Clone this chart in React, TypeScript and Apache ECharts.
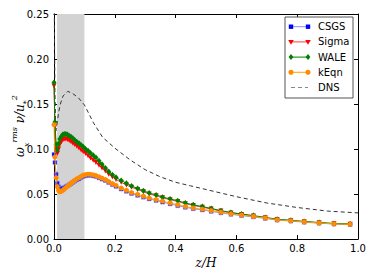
import React, { useEffect, useRef } from "react";
import * as echarts from "echarts";

const Z = [0, 0.003, 0.007, 0.011, 0.015, 0.019, 0.024, 0.029, 0.034, 0.039, 0.044, 0.05, 0.056, 0.062, 0.068, 0.075, 0.082, 0.089, 0.096, 0.104, 0.112, 0.12, 0.129, 0.138, 0.148, 0.158, 0.169, 0.18, 0.192, 0.204, 0.221, 0.238, 0.255, 0.275, 0.294, 0.313, 0.336, 0.357, 0.382, 0.407, 0.432, 0.458, 0.488, 0.517, 0.549, 0.582, 0.617, 0.656, 0.695, 0.734, 0.779, 0.823, 0.872, 0.921, 0.974];
const CSGS = [0.094, 0.085, 0.072, 0.062, 0.058, 0.0565, 0.056, 0.0565, 0.057, 0.058, 0.059, 0.0602, 0.0615, 0.063, 0.0643, 0.0657, 0.0668, 0.0683, 0.0695, 0.0703, 0.0708, 0.0707, 0.0702, 0.0695, 0.068, 0.0665, 0.065, 0.0628, 0.0605, 0.0585, 0.0555, 0.053, 0.0505, 0.0485, 0.0465, 0.0445, 0.0428, 0.041, 0.039, 0.037, 0.0352, 0.0337, 0.0322, 0.0307, 0.029, 0.0274, 0.026, 0.0245, 0.0229, 0.021, 0.0199, 0.0187, 0.0176, 0.0166, 0.0161];
const SIGMA = [0.17, 0.125, 0.1, 0.095, 0.1, 0.105, 0.108, 0.11, 0.111, 0.111, 0.1105, 0.1095, 0.108, 0.1065, 0.105, 0.103, 0.101, 0.099, 0.097, 0.095, 0.0925, 0.09, 0.0875, 0.085, 0.082, 0.079, 0.0755, 0.072, 0.069, 0.066, 0.063, 0.06, 0.0575, 0.055, 0.0525, 0.05, 0.048, 0.0457, 0.0437, 0.0417, 0.0393, 0.0373, 0.0353, 0.0333, 0.031, 0.029, 0.0273, 0.0255, 0.0236, 0.0216, 0.0204, 0.0192, 0.018, 0.017, 0.0164];
const WALE = [0.174, 0.13, 0.105, 0.099, 0.106, 0.111, 0.114, 0.116, 0.1168, 0.1168, 0.116, 0.1148, 0.1135, 0.112, 0.11, 0.108, 0.1065, 0.1045, 0.1026, 0.1, 0.098, 0.0955, 0.093, 0.0905, 0.087, 0.083, 0.079, 0.075, 0.0715, 0.0685, 0.065, 0.062, 0.059, 0.056, 0.0535, 0.051, 0.049, 0.0465, 0.0445, 0.0425, 0.04, 0.038, 0.036, 0.034, 0.0315, 0.0295, 0.0278, 0.026, 0.024, 0.022, 0.0208, 0.0195, 0.0183, 0.0173, 0.0167];
const KEQN = [0.127, 0.091, 0.068, 0.058, 0.054, 0.0525, 0.053, 0.054, 0.0555, 0.057, 0.0585, 0.06, 0.0618, 0.0635, 0.065, 0.0668, 0.068, 0.0695, 0.0708, 0.0716, 0.072, 0.0718, 0.0712, 0.0705, 0.069, 0.0675, 0.066, 0.0638, 0.0615, 0.0595, 0.0565, 0.054, 0.0515, 0.0495, 0.0475, 0.0455, 0.0438, 0.042, 0.04, 0.038, 0.036, 0.0345, 0.033, 0.0315, 0.0297, 0.028, 0.0265, 0.025, 0.0233, 0.0213, 0.0202, 0.019, 0.0178, 0.0168, 0.0163];

const DNS_Z = [0, 0.003, 0.006, 0.01, 0.015, 0.02, 0.03, 0.045, 0.06, 0.08, 0.1, 0.13, 0.16, 0.2, 0.25, 0.3, 0.35, 0.4, 0.45, 0.5, 0.6, 0.7, 0.8, 0.9, 1.0];
const DNS = [0.3, 0.165, 0.12, 0.128, 0.14, 0.149, 0.159, 0.164, 0.162, 0.157, 0.149, 0.129, 0.113, 0.101, 0.088, 0.077, 0.069, 0.063, 0.059, 0.055, 0.047, 0.04, 0.035, 0.031, 0.029];

const BAND = [0.01, 0.1];
const X_TICKS = [0, 0.2, 0.4, 0.6, 0.8, 1.0];
const Y_TICKS = [0, 0.05, 0.1, 0.15, 0.2, 0.25];

const LEGEND_NAMES = ["CSGS", "Sigma", "WALE", "kEqn", "DNS"];

const FONT = "DejaVu Sans";

function pairs(xs: number[], ys: number[]) {
  return xs.map((x, i) => [x, ys[i]]);
}

export default function App() {
  const ref = useRef<HTMLDivElement>(null);
  useEffect(() => {
    if (!ref.current) return;
    const chart = echarts.init(ref.current, undefined, { renderer: "svg" });

    const axisCommon = {
      type: "value" as const,
      axisLine: { show: true, onZero: false, lineStyle: { color: "#000", width: 1 } },
      axisTick: { show: true, inside: true, length: 4, lineStyle: { color: "#000" } },
      splitLine: { show: false },
    };

    const lx0 = 291, lx1 = 308, ltx = 318, ly0 = 26.7, lstep = 15.2;
    const legendStyles = [
      { line: "#8f8fff", mk: "#0000ff", shape: "rect" },
      { line: "#ff3b3b", mk: "#ff0000", shape: "tri" },
      { line: "#008000", mk: "#008000", shape: "diamond" },
      { line: "#ffa500", mk: "#ff8c00", shape: "circle" },
      { line: "#888", mk: "", shape: "dash" },
    ];
    const marker = (shape: string, cx: number, cy: number, color: string) => {
      if (shape === "rect") return { type: "rect", shape: { x: cx - 2.2, y: cy - 2.2, width: 4.4, height: 4.4 }, style: { fill: color } };
      if (shape === "tri") return { type: "polygon", shape: { points: [[cx - 2.8, cy - 2], [cx + 2.8, cy - 2], [cx, cy + 2.8]] }, style: { fill: color } };
      if (shape === "diamond") return { type: "polygon", shape: { points: [[cx, cy - 3], [cx + 2.4, cy], [cx, cy + 3], [cx - 2.4, cy]] }, style: { fill: color } };
      return { type: "circle", shape: { cx, cy, r: 2.6 }, style: { fill: color } };
    };
    const legendEls: any[] = [
      { type: "rect", shape: { x: 285, y: 17, width: 68, height: 81 }, style: { fill: "#fff", stroke: "#555", lineWidth: 1 }, z: 100 },
    ];
    LEGEND_NAMES.forEach((name, i) => {
      const y = ly0 + i * lstep;
      const st = legendStyles[i];
      legendEls.push({
        type: "line",
        shape: { x1: lx0, y1: y, x2: lx1, y2: y },
        style: { stroke: st.line, lineWidth: 1, lineDash: st.shape === "dash" ? [4, 3] : null },
        z: 101,
      });
      if (st.shape !== "dash") {
        legendEls.push({ ...marker(st.shape, lx0, y, st.mk), z: 102 });
        legendEls.push({ ...marker(st.shape, lx1, y, st.mk), z: 102 });
      }
      legendEls.push({
        type: "text",
        x: ltx,
        y,
        style: { text: name, font: `10px "${FONT}"`, fill: "#000", verticalAlign: "middle", align: "left" },
        z: 102,
      });
    });

    chart.setOption({
      animation: false,
      grid: { left: 54, top: 14, width: 304, height: 225, containLabel: false },
      xAxis: [
        {
          ...axisCommon,
          min: 0,
          max: 1,
          interval: 0.2,
          position: "bottom",
          axisLabel: {
            color: "#000",
            fontFamily: FONT,
            fontSize: 10,
            margin: 4,
            formatter: (v: number) => (X_TICKS.includes(+v.toFixed(2)) ? v.toFixed(1) : ""),
          },
        },
        { ...axisCommon, min: 0, max: 1, interval: 0.2, position: "top", axisLabel: { show: false } },
      ],
      yAxis: [
        {
          ...axisCommon,
          min: 0,
          max: 0.25,
          interval: 0.05,
          position: "left",
          axisLabel: {
            color: "#000",
            fontFamily: FONT,
            fontSize: 10,
            margin: 5,
            formatter: (v: number) => (Y_TICKS.some((t) => Math.abs(t - v) < 1e-9) ? v.toFixed(2) : ""),
          },
        },
        { ...axisCommon, min: 0, max: 0.25, interval: 0.05, position: "right", axisLabel: { show: false } },
      ],
      graphic: [
        {
          type: "text",
          x: 20,
          y: 126,
          rotation: Math.PI / 2,
          style: {
            text: "{w|ω}{s|x}{p|rms}{w| ν/u}{s|*}{p|2}",
            align: "center",
            verticalAlign: "middle",
            rich: {
              w: { fontFamily: "DejaVu Serif", fontStyle: "italic", fontSize: 12, lineHeight: 20, verticalAlign: "middle", fill: "#000" },
              s: { fontFamily: "DejaVu Serif", fontStyle: "italic", fontSize: 8, lineHeight: 20, verticalAlign: "bottom", fill: "#000" },
              p: { fontFamily: "DejaVu Serif", fontStyle: "italic", fontSize: 8, lineHeight: 20, verticalAlign: "top", fill: "#000" },
            },
          },
        },
        {
          type: "text",
          x: 206,
          y: 263,
          style: { text: "z/H", font: `italic 12px "DejaVu Serif"`, fill: "#000", align: "center", verticalAlign: "middle" },
        },
        ...legendEls,
      ],
      series: [
        {
          type: "line",
          name: "band",
          data: [],
          markArea: {
            silent: true,
            itemStyle: { color: "#d3d3d3" },
            data: [[{ xAxis: BAND[0] }, { xAxis: BAND[1] }]],
          },
          z: 1,
        },
        {
          type: "line",
          name: "DNS",
          data: pairs(DNS_Z, DNS),
          showSymbol: false,
          lineStyle: { color: "#333", width: 1, type: [4, 3] },
          z: 2,
        },
        {
          type: "line",
          name: "CSGS",
          data: pairs(Z, CSGS),
          symbol: "rect",
          symbolSize: 4,
          lineStyle: { color: "#8f8fff", width: 1 },
          itemStyle: { color: "#0000ff", borderColor: "#8f8fff", borderWidth: 0.5 },
          z: 3,
        },
        {
          type: "line",
          name: "Sigma",
          data: pairs(Z, SIGMA),
          symbol: "triangle",
          symbolRotate: 180,
          symbolSize: 5,
          lineStyle: { color: "#ff3b3b", width: 1 },
          itemStyle: { color: "#ff0000", borderWidth: 0 },
          z: 4,
        },
        {
          type: "line",
          name: "WALE",
          data: pairs(Z, WALE),
          symbol: "diamond",
          symbolSize: [5, 6],
          lineStyle: { color: "#008000", width: 1 },
          itemStyle: { color: "#008000", borderWidth: 0 },
          z: 5,
        },
        {
          type: "line",
          name: "kEqn",
          data: pairs(Z, KEQN),
          symbol: "circle",
          symbolSize: 5,
          lineStyle: { color: "#ffa500", width: 1 },
          itemStyle: { color: "#ff8c00", borderWidth: 0 },
          z: 6,
        },
      ],
    });
    return () => chart.dispose();
  }, []);
  return <div ref={ref} style={{ width: 374, height: 280, margin: -8 }} />;
}
